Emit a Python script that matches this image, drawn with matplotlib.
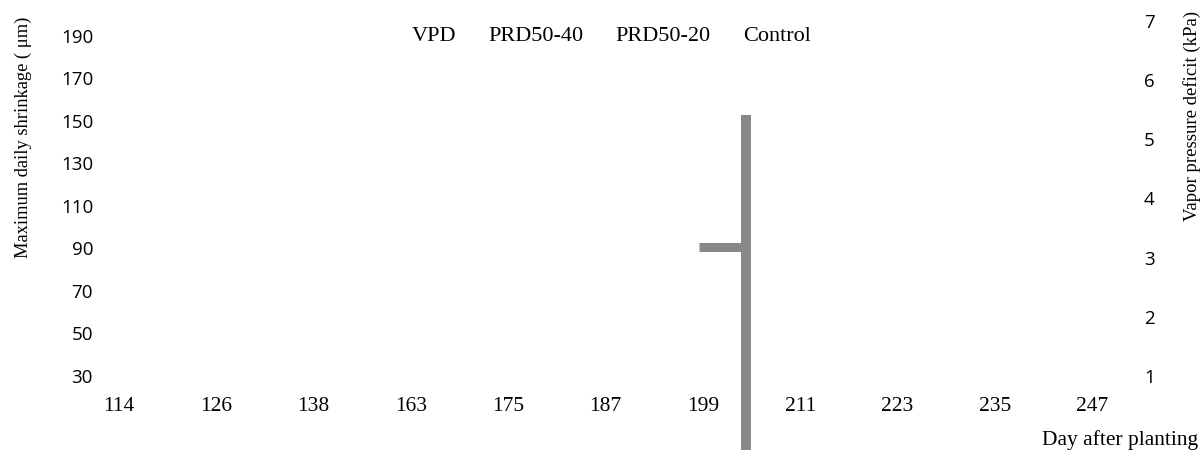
import matplotlib
matplotlib.use("Agg")
import matplotlib.pyplot as plt

# ---- data ----
days = ["114", "126", "138", "163", "175", "187", "199", "211", "223", "235", "247"]
series_names = ["VPD", "PRD50-40", "PRD50-20", "Control"]
# no series points are visible in the reference
vpd = []
prd50_40 = []
prd50_20 = []
control = []
series_values = [vpd, prd50_40, prd50_20, control]

left_ticks = [30, 50, 70, 90, 110, 130, 150, 170, 190]
right_ticks = [1, 2, 3, 4, 5, 6, 7]

# gray bracket mark seen in the chart (category position / left-axis values)
mark_pos = 6.44
mark_top = 152.8
mark_bottom = -5.0
stub_start = 5.96
stub_level = 90.4

# ---- figure ----
W, H = 1204, 450
fig = plt.figure(figsize=(W / 100, H / 100), dpi=100)
ax = fig.add_axes([100 / W, (H - 385) / H, (1135 - 100) / W, (385 - 15) / H])
ax2 = ax.twinx()

serif = "Liberation Serif"
sans = "Open Sans"

x = list(range(len(days)))
for name, vals in zip(series_names, series_values):
    ax.plot(x[:len(vals)], vals, label=name)

gray = "#888888"
ax.plot([mark_pos, mark_pos], [mark_top, mark_bottom], color=gray, lw=7.2,
        solid_capstyle="butt", clip_on=False, zorder=3)
ax.plot([stub_start, mark_pos], [stub_level, stub_level], color=gray, lw=6.5,
        solid_capstyle="butt", clip_on=False, zorder=3)

ax.set_xlim(-0.195, 10.44)
ax.set_ylim(25.62, 199.9)
ax2.set_ylim(0.843, 7.103)

ax.set_xticks(x)
ax.set_xticklabels(days, fontfamily=serif, fontsize=15.5)
ax.set_yticks(left_ticks)
ax.set_yticklabels([str(t) for t in left_ticks], fontfamily=sans, fontsize=13.5)
ax2.set_yticks(right_ticks)
ax2.set_yticklabels([str(t) for t in right_ticks], fontfamily=sans, fontsize=13.5)

ax.tick_params(axis="x", length=0, pad=8.5)
ax.tick_params(axis="y", length=0, pad=5)
ax2.tick_params(axis="y", length=0, pad=6.5)

for a in (ax, ax2):
    for s in a.spines.values():
        s.set_visible(False)

fig.text(23.5 / W, 1 - 137.5 / H, "Maximum daily shrinkage ( μm)", rotation=90,
         ha="center", va="center", fontfamily=serif, fontsize=13.3)
fig.text(1192 / W, 1 - 116 / H, "Vapor pressure deficit (kPa)", rotation=90,
         ha="center", va="center", fontfamily=serif, fontsize=13.5)
fig.text(1198 / W, 1 - 440 / H, "Day after planting", ha="right", va="center",
         fontfamily=serif, fontsize=15.5)

leg = ax.legend(loc="center left", bbox_to_anchor=(411.5 / W, 1 - 35.5 / H),
                bbox_transform=fig.transFigure, ncol=4, frameon=False,
                handlelength=0, handletextpad=0, columnspacing=1.45,
                borderpad=0, borderaxespad=0, prop={"family": serif, "size": 16})
for h in leg.legend_handles:
    h.set_visible(False)

fig.savefig("out.png", dpi=100)
